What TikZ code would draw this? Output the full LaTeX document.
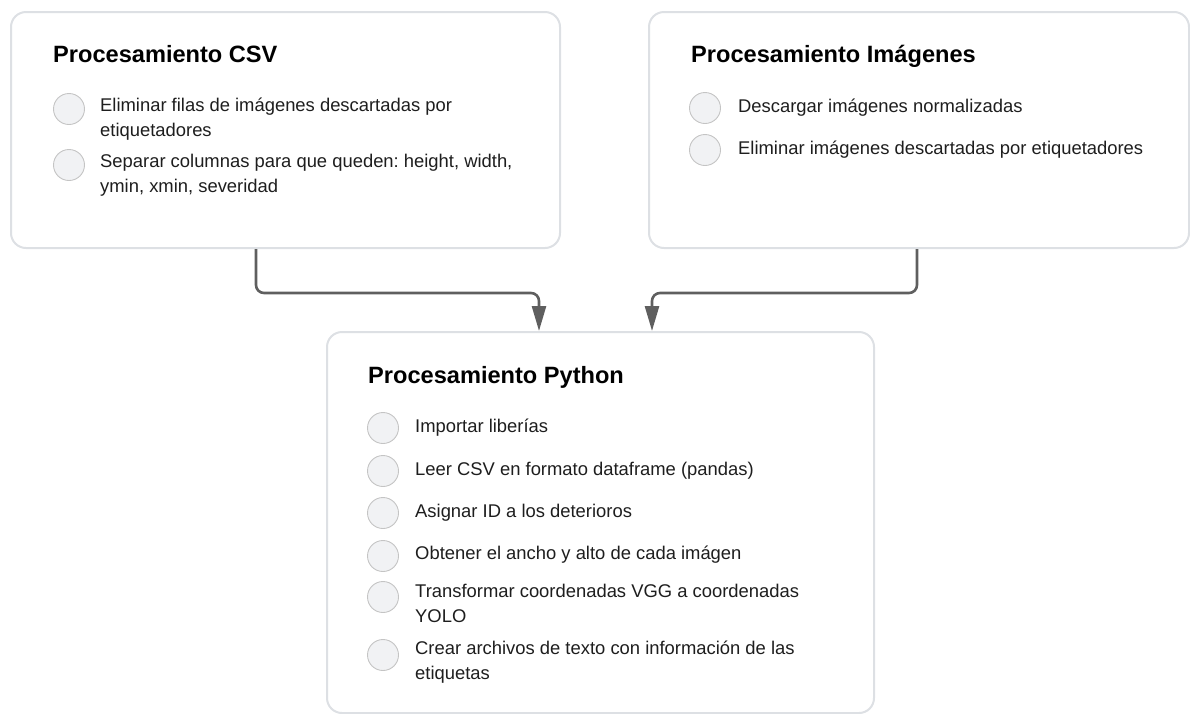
\documentclass[tikz,border=0pt]{standalone}
\usepackage{fontspec}
\setmainfont{Liberation Sans}
\usetikzlibrary{arrows.meta}
\definecolor{boxline}{HTML}{DDE0E4}
\definecolor{dotfill}{HTML}{F1F2F4}
\definecolor{dotline}{HTML}{C4C4C4}
\definecolor{conncol}{HTML}{5F5F5F}
\definecolor{txtcol}{HTML}{1E1E1E}
\frenchspacing
\begin{document}
\begin{tikzpicture}[x=1pt,y=-1pt,
  panel/.style={draw=boxline,line width=2pt,fill=white,rounded corners=15pt,anchor=north west,inner sep=0pt},
  paneltitle/.style={anchor=base west,inner sep=0pt,font=\fontsize{23.6}{28}\selectfont\bfseries,text=black},
  dot/.style={circle,draw=dotline,fill=dotfill,line width=0.9pt,minimum size=31pt,inner sep=0pt},
  itemtext/.style={anchor=base west,inner sep=0pt,font=\fontsize{18.4}{25}\selectfont\frenchspacing,text=txtcol},
  conn/.style={draw=conncol,line width=2.6pt,rounded corners=8pt,-{Triangle[length=25pt,width=14pt]}}
]
\useasboundingbox (0,0) rectangle (1190,713);

% panels
\node[panel,minimum width=549pt,minimum height=236pt] (csv) at (10,11) {};
\node[panel,minimum width=540pt,minimum height=236pt] (img) at (648,11) {};
\node[panel,minimum width=547pt,minimum height=381pt] (py) at (326,331) {};

% CSV panel
\node[paneltitle] (csvt) at (53,62) {Procesamiento CSV};
\node[dot] (c1) at (69,109) {};
\node[itemtext] (c1t) at (100,111) {\begin{tabular}[t]{@{}l@{}}Eliminar filas de imágenes descartadas por\\etiquetadores\end{tabular}};
\node[dot] (c2) at (69,165) {};
\node[itemtext] (c2t) at (100,167) {\begin{tabular}[t]{@{}l@{}}Separar columnas para que queden: height, width,\\ymin, xmin, severidad\end{tabular}};

% Images panel
\node[paneltitle] (imgt) at (691,62) {Procesamiento Imágenes};
\node[dot] (i1) at (705,108) {};
\node[itemtext] (i1t) at (738,112) {Descargar imágenes normalizadas};
\node[dot] (i2) at (705,150) {};
\node[itemtext] (i2t) at (738,154) {Eliminar imágenes descartadas por etiquetadores};

% Python panel
\node[paneltitle] (pyt) at (368,383) {Procesamiento Python};
\node[dot] (p1) at (383,428) {};
\node[itemtext] (p1t) at (415,432) {Importar liberías};
\node[dot] (p2) at (383,471) {};
\node[itemtext] (p2t) at (415,475) {Leer CSV en formato dataframe (pandas)};
\node[dot] (p3) at (383,513) {};
\node[itemtext] (p3t) at (415,517) {Asignar ID a los deterioros};
\node[dot] (p4) at (383,556) {};
\node[itemtext] (p4t) at (415,559) {Obtener el ancho y alto de cada imágen};
\node[dot] (p5) at (383,597) {};
\node[itemtext] (p5t) at (415,597) {\begin{tabular}[t]{@{}l@{}}Transformar coordenadas VGG a coordenadas\\YOLO\end{tabular}};
\node[dot] (p6) at (383,655) {};
\node[itemtext] (p6t) at (415,654) {\begin{tabular}[t]{@{}l@{}}Crear archivos de texto con información de las\\etiquetas\end{tabular}};

% connectors
\draw[conn] ([xshift=246pt]csv.south west) -- ++(0,44) -| ([xshift=213pt]py.north west);
\draw[conn] ([xshift=269pt]img.south west) -- ++(0,44) -| ([xshift=326pt]py.north west);
\end{tikzpicture}
\end{document}
